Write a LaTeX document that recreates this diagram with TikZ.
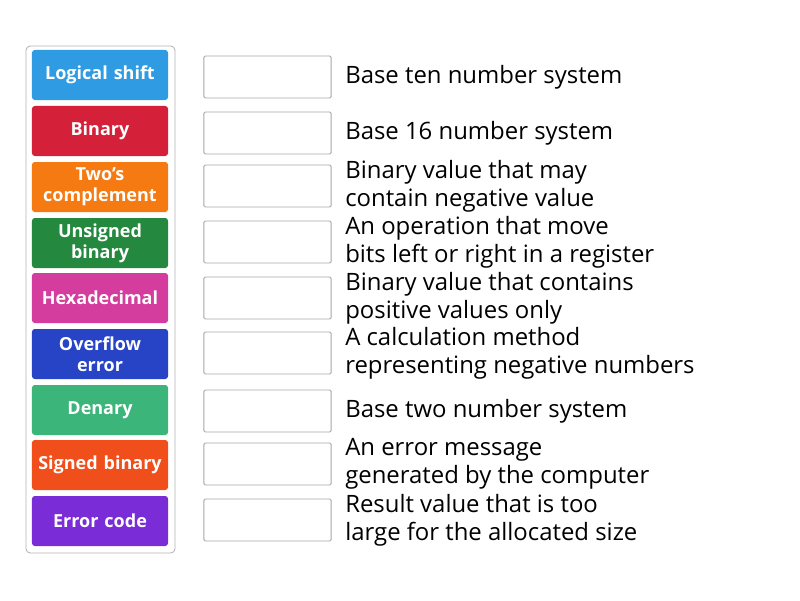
\documentclass[tikz,border=0pt]{standalone}
\usepackage{fontspec}
\setmainfont{Open Sans}
\definecolor{cblue}{HTML}{2E9BE3}
\definecolor{cred}{HTML}{D42039}
\definecolor{corange}{HTML}{F57A12}
\definecolor{cgreen}{HTML}{24893F}
\definecolor{cpink}{HTML}{D43C9E}
\definecolor{cnavy}{HTML}{2743C6}
\definecolor{cteal}{HTML}{3BB57A}
\definecolor{cvermil}{HTML}{F04E1A}
\definecolor{cpurple}{HTML}{7A2CD6}
\tikzset{
  tile/.style={rounded corners=2pt, minimum width=3.4cm, minimum height=1.25cm,
    text width=3.4cm, align=center, text=white, font=\fontsize{12.8}{15}\selectfont\bfseries, inner sep=0pt},
  slot/.style={draw=gray!70, rounded corners=1pt, minimum width=3.18cm, minimum height=1.05cm, line width=0.6pt},
  desc/.style={anchor=west, align=left, font=\fontsize{17}{20}\selectfont, inner sep=0pt}
}
\begin{document}
\begin{tikzpicture}[x=0.025cm, y=-0.025cm]
  \useasboundingbox (0,0) rectangle (800,600);
  % outer frame
  \draw[gray!60, rounded corners=3pt, line width=0.6pt] (26,46) rectangle (175,553);
  % tiles
  \foreach \y/\c/\t [count=\i] in {75/cblue/Logical shift, 131/cred/Binary, 187/corange/{Two's\\complement},
      243/cgreen/{Unsigned\\binary}, 298/cpink/Hexadecimal, 354/cnavy/{Overflow\\error},
      410/cteal/Denary, 465/cvermil/Signed binary, 521/cpurple/Error code}
    \node[tile, fill=\c] (tile\i) at (100,\y) {\t};
  % slots and descriptions
  \foreach \y/\t [count=\i] in {77/Base ten number system, 133/Base 16 number system,
      186/{Binary value that may\\contain negative value}, 242/{An operation that move\\bits left or right in a register},
      298/{Binary value that contains\\positive values only}, 353/{A calculation method\\representing negative numbers},
      411/Base two number system, 464/{An error message\\generated by the computer},
      520/{Result value that is too\\large for the allocated size}}
  {
    \node[slot] (slot\i) at (267.5,\y) {};
    \node[desc] (desc\i) at (345,\y) {\t};
  }
\end{tikzpicture}
\end{document}
